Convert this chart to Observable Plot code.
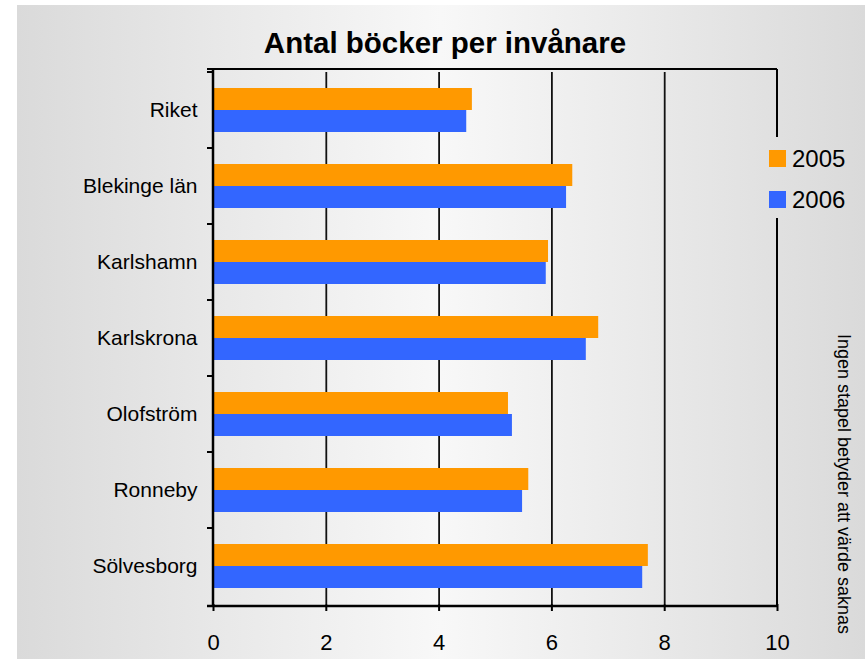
<!DOCTYPE html>
<html>
<head>
<meta charset="utf-8">
<script src="https://cdn.jsdelivr.net/npm/d3@7"></script>
<script src="https://cdn.jsdelivr.net/npm/@observablehq/plot@0.6"></script>
<style>
  html, body { margin: 0; padding: 0; background: #ffffff; }
  #chart svg { display: block; }
</style>
</head>
<body>
<div id="chart"></div>
<script>
// ---- data ----
const categories = ["Riket", "Blekinge län", "Karlshamn", "Karlskrona", "Olofström", "Ronneby", "Sölvesborg"];
const years = ["2005", "2006"];
const values2005 = [4.59, 6.37, 5.94, 6.83, 5.23, 5.59, 7.71];
const values2006 = [4.49, 6.26, 5.90, 6.61, 5.30, 5.48, 7.61];
const xTicks = [0, 2, 4, 6, 8, 10];
const gridValues = [2, 4, 6, 8];
const seriesColors = ["#ff9900", "#3366ff"];
const titleText = "Antal böcker per invånare";
const noteText = "Ingen stapel betyder att värde saknas";

const rows = categories.flatMap((c, i) => [
  {cat: c, year: years[0], value: values2005[i]},
  {cat: c, year: years[1], value: values2006[i]}
]);

const FONT = "'Liberation Sans', Arial, Helvetica, sans-serif";
const W = 865, H = 659;
const mL = 213, mR = 88, mT = 69, mB = 53;

const plot = Plot.plot({
  width: W,
  height: H,
  marginLeft: mL,
  marginRight: mR,
  marginTop: mT,
  marginBottom: mB,
  style: {fontFamily: FONT, background: "transparent", color: "#000", overflow: "visible"},
  x: {domain: [0, 10], label: null},
  fy: {domain: categories, padding: 0, label: null},
  y: {domain: years, paddingInner: 0, paddingOuter: 0.667, axis: null},
  color: {domain: years, range: seriesColors},
  marks: [
    Plot.ruleX(gridValues, {stroke: "#111", strokeWidth: 1.8}),
    Plot.barX(rows, {fy: "cat", y: "year", x: "value", fill: "year"}),
    Plot.axisX({ticks: xTicks, tickSize: 7, tickPadding: 23, fontSize: 22, label: null, stroke: "#000", strokeWidth: 2, tickFormat: d => String(d)}),
    Plot.axisFy({anchor: "left", tickSize: 0, tickPadding: 16, fontSize: 21, label: null})
  ]
});

document.getElementById("chart").appendChild(plot);

// ---- decorations drawn with the plot's own scales ----
const svg = d3.select(plot);
const xs = plot.scale("x");
const fys = plot.scale("fy");
const xPos = v => xs.apply(v);
const pLeft = xPos(0), pRight = xPos(10);
const pTop = mT, pBottom = H - mB;
const bandTops = categories.map(c => fys.apply(c));
const boundaries = [...bandTops, pBottom];

// background gradient
const defs = svg.insert("defs", ":first-child");
const grad = defs.append("linearGradient").attr("id", "bgGrad").attr("x1", 0).attr("x2", 1).attr("y1", 0).attr("y2", 0);
grad.append("stop").attr("offset", "0%").attr("stop-color", "#dadada");
grad.append("stop").attr("offset", "50%").attr("stop-color", "#f8f8f8");
grad.append("stop").attr("offset", "100%").attr("stop-color", "#dadada");
svg.insert("rect", "defs + *")
  .attr("x", 17).attr("y", 5).attr("width", W - 17).attr("height", H - 5)
  .attr("fill", "url(#bgGrad)");

const deco = svg.append("g").attr("stroke", "#000").attr("fill", "none");
// left axis line and bottom axis line
deco.append("line").attr("x1", pLeft).attr("x2", pLeft).attr("y1", pTop).attr("y2", pBottom).attr("stroke-width", 2.5);
deco.append("line").attr("x1", pLeft - 6).attr("x2", pRight).attr("y1", pBottom).attr("y2", pBottom).attr("stroke-width", 2.5);
// top border
deco.append("line").attr("x1", pLeft - 6).attr("x2", pRight).attr("y1", pTop).attr("y2", pTop).attr("stroke-width", 2);
// category boundary ticks on the left
boundaries.forEach(b => {
  deco.append("line").attr("x1", pLeft - 6).attr("x2", pLeft).attr("y1", b).attr("y2", b).attr("stroke-width", 2);
});
// legend
const legendX = pRight - 8;
const legendY0 = 150;
const legendStep = 41;
const legendTop = legendY0 - 13, legendBottom = legendY0 + legendStep + 17 + 10;
// right border, broken by the legend
deco.append("line").attr("x1", pRight).attr("x2", pRight).attr("y1", pTop).attr("y2", legendTop).attr("stroke-width", 2);
deco.append("line").attr("x1", pRight).attr("x2", pRight).attr("y1", legendBottom).attr("y2", pBottom).attr("stroke-width", 2);

const color = plot.scale("color");
const lg = svg.append("g").attr("font-family", FONT).attr("font-size", 24).attr("text-anchor", "start");
years.forEach((yr, i) => {
  const y0 = legendY0 + i * legendStep;
  lg.append("rect").attr("x", legendX).attr("y", y0).attr("width", 17).attr("height", 17).attr("fill", color.apply(yr));
  lg.append("text").attr("x", legendX + 23).attr("y", y0 + 17).attr("fill", "#000").attr("text-anchor", "start").text(yr);
});

// title
svg.append("text")
  .attr("x", 445).attr("y", 53)
  .attr("text-anchor", "middle")
  .attr("font-family", FONT).attr("font-weight", "bold").attr("font-size", 29.5)
  .attr("fill", "#000")
  .text(titleText);

// rotated note
svg.append("text")
  .attr("transform", "translate(838,484) rotate(90)")
  .attr("text-anchor", "middle")
  .attr("font-family", FONT).attr("font-size", 18)
  .attr("fill", "#000")
  .text(noteText);
</script>
</body>
</html>
